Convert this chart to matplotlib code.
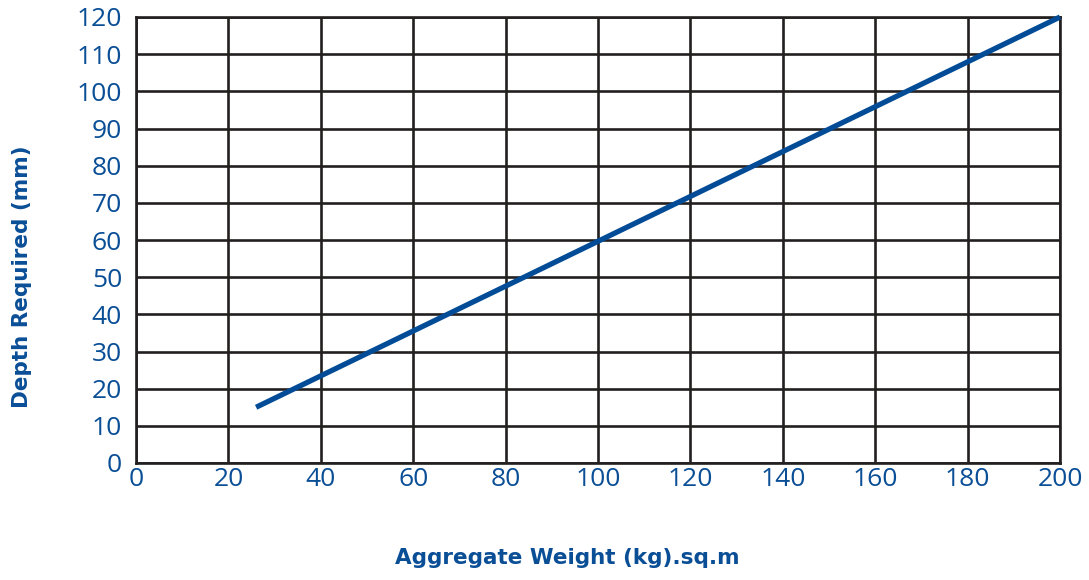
import matplotlib
matplotlib.use("Agg")
import matplotlib.pyplot as plt

# Data
x_vals = [26, 200]
y_vals = [15, 120]
x_ticks = [0, 20, 40, 60, 80, 100, 120, 140, 160, 180, 200]
y_ticks = [0, 10, 20, 30, 40, 50, 60, 70, 80, 90, 100, 110, 120]
x_label = "Aggregate Weight (kg).sq.m"
y_label = "Depth Required (mm)"

BLUE = "#0a4e96"
GRID = "#231f20"

fig = plt.figure(figsize=(10.89, 5.80), dpi=100)
ax = fig.add_axes([136/1089, 1 - 463/580, (1060-136)/1089, (463-17)/580])

ax.plot(x_vals, y_vals, color="#024c97", lw=3.8, solid_capstyle="butt", clip_on=False, zorder=3)

ax.set_xlim(0, 200)
ax.set_ylim(0, 120)
ax.set_xticks(x_ticks)
ax.set_yticks(y_ticks)
ax.grid(True, color=GRID, lw=1.9)
ax.set_axisbelow(True)
for s in ax.spines.values():
    s.set_color(GRID)
    s.set_linewidth(1.9)
    s.set_zorder(1)

ax.tick_params(length=0, labelcolor=BLUE)
ax.tick_params(axis="y", pad=10)
ax.tick_params(axis="x", pad=3)
for lab in ax.get_xticklabels() + ax.get_yticklabels():
    lab.set_fontfamily("Open Sans")
    lab.set_fontsize(19)

fig.text(567/1089, 1 - 558/580, x_label, color=BLUE, fontsize=15.5, fontweight="bold",
         family="DejaVu Sans", ha="center", va="center")
fig.text(22/1089, 1 - 277/580, y_label, color=BLUE, fontsize=15.5, fontweight="bold",
         family="DejaVu Sans", ha="center", va="center", rotation=90)

fig.savefig("out.png", dpi=100)
